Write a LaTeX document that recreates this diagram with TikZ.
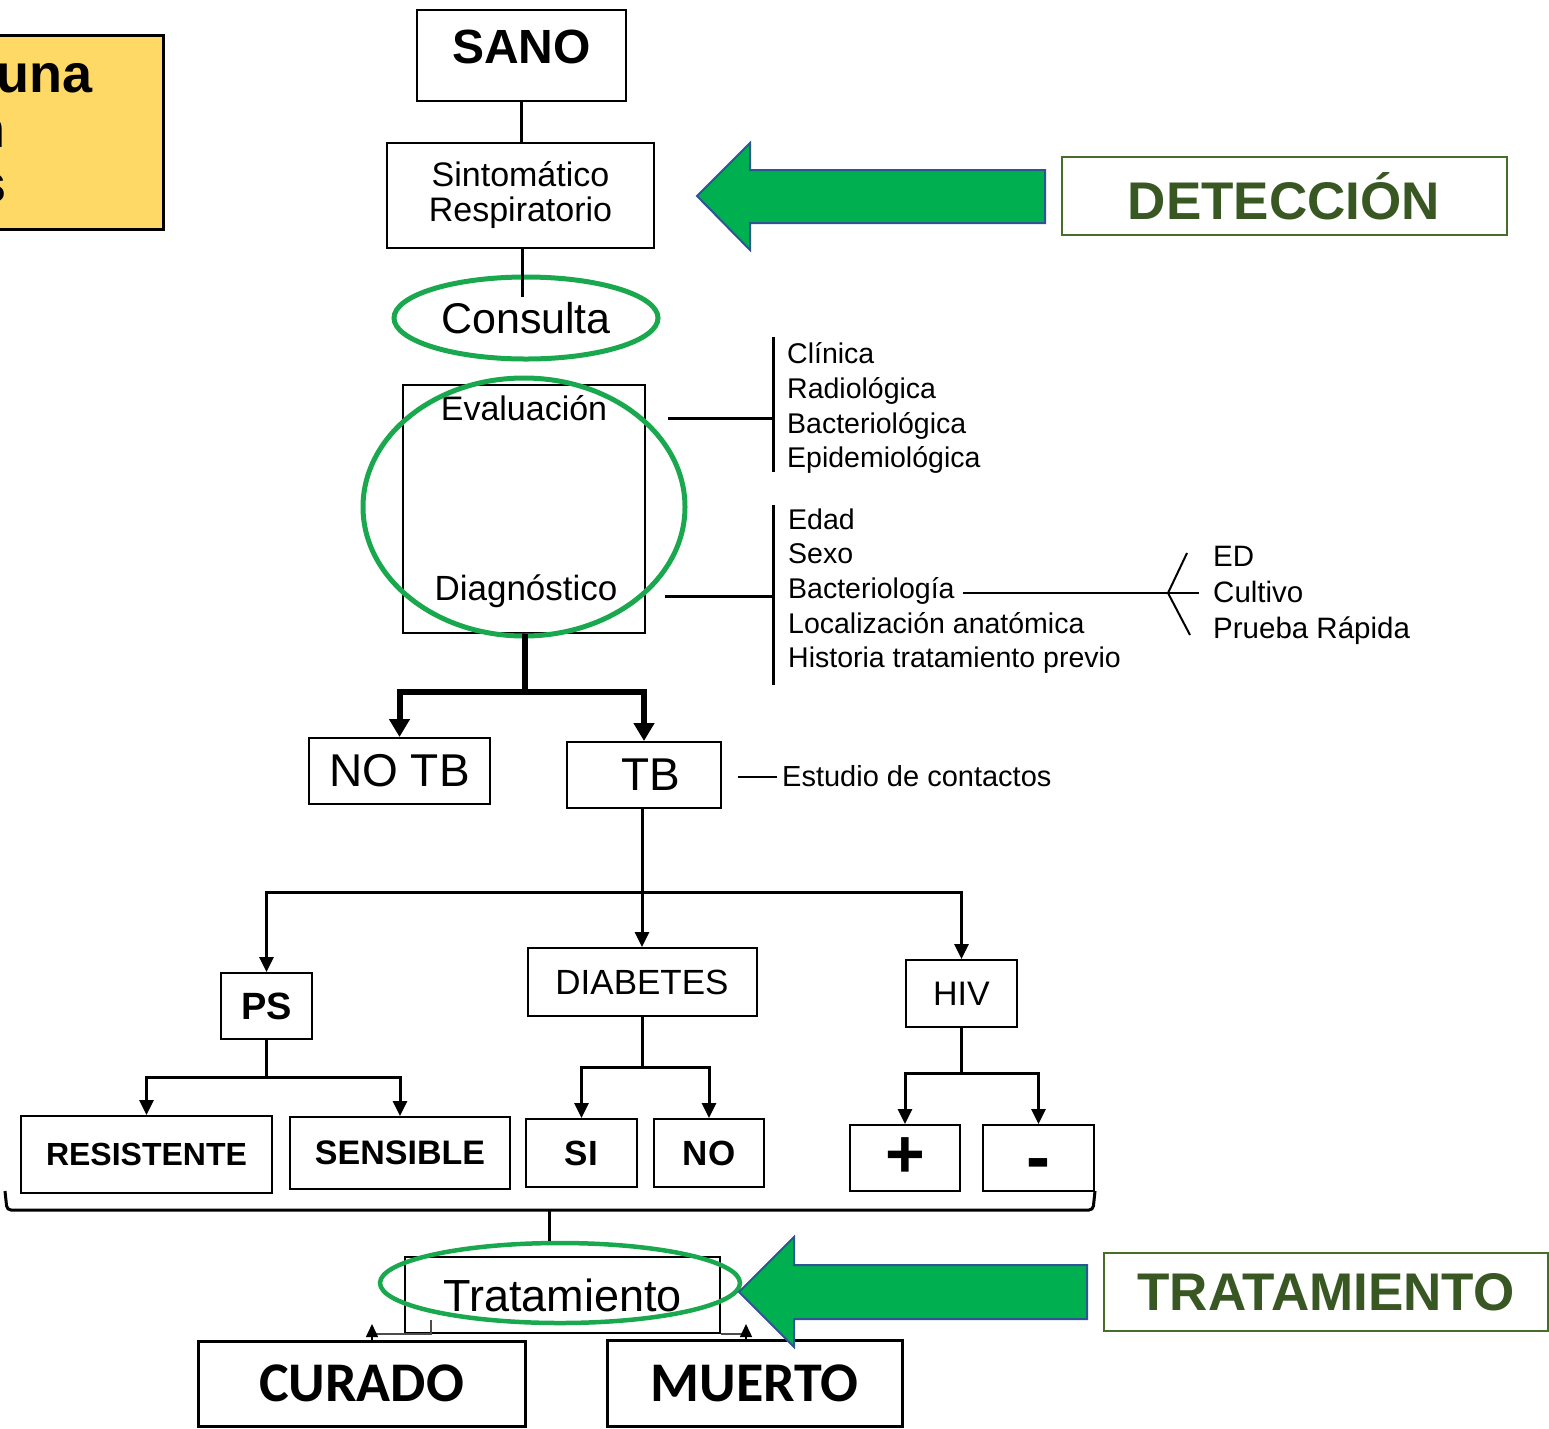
\documentclass[tikz,border=0pt]{standalone}
\usepackage{fontspec}
\setmainfont{Liberation Sans}
\newfontfamily\carlitofont{Carlito}
\usetikzlibrary{shapes.geometric,arrows.meta,calc}
\definecolor{ellgreen}{RGB}{26,168,78}
\definecolor{arrgreen}{RGB}{0,176,80}
\definecolor{arrblue}{RGB}{47,84,150}
\definecolor{darkgreen}{RGB}{56,87,35}
\definecolor{boxgreen}{RGB}{70,110,40}
\definecolor{yel}{RGB}{255,217,102}
\newcommand\fs[2]{\fontsize{#1}{#2}\selectfont}
\begin{document}
\begin{tikzpicture}[x=1pt,y=-1pt,
  box/.style={draw,line width=2pt,inner sep=0pt,align=center,fill=white},
  ell/.style={draw=ellgreen,line width=5pt,ellipse,inner sep=0pt},
  conn/.style={line width=3pt},
  tri/.style={-{Triangle[width=14pt,length=15pt]}},
  bigtri/.style={-{Triangle[width=20pt,length=18pt]}},
  lbl/.style={anchor=base west,inner sep=0pt,font=\fs{28.5}{34}},
  bigarrow/.style={fill=arrgreen,draw=arrblue,line width=2pt,line join=miter},
  tag/.style={draw=boxgreen,line width=2pt,inner sep=0pt,font=\bfseries\fs{53}{56},text=darkgreen},
]
\useasboundingbox (0,0) rectangle (1549,1428);
\clip (0,0) rectangle (1549,1428);

% yellow note (cut at the left edge)
\draw[fill=yel,line width=3pt] (-100,35) rectangle (163,229);
\node[anchor=base east,inner sep=0pt,font=\bfseries\fs{54}{60}] (y1) at (93,92) {una};
\node[anchor=base east,inner sep=0pt,font=\bfseries\fs{54}{60}] (y2) at (6,147) {n};
\node[anchor=base east,inner sep=0pt,font=\bfseries\fs{54}{60}] (y3) at (7,202) {s};

% top chain
\node[box,minimum width=209pt,minimum height=91pt,text depth=18pt,font=\bfseries\fs{48}{52}] (sano) at (521.5,55.5) {SANO};
\node[box,minimum width=267pt,minimum height=105pt,font=\fs{34}{35}] (sint) at (520.5,195.5) {Sintomático\\Respiratorio};
\draw[conn] (sano.south) -- (sano.south |- sint.north);
\node[ell,minimum width=264pt,minimum height=82pt,font=\fs{43}{48}] (cons) at (526,318) {Consulta};
\coordinate (consin) at (522,297);
\draw[conn] (sint.south -| consin) -- (consin);

% evaluation / diagnosis
\node[box,minimum width=242pt,minimum height=248pt] (evd) at (524,509) {};
\node[anchor=base,inner sep=0pt,font=\fs{34}{40}] (evtxt) at (524,420) {Evaluación};
\node[anchor=base,inner sep=0pt,font=\fs{35}{40}] (dgtxt) at (526,600) {Diagnóstico};
\node[ell,minimum width=322pt,minimum height=258pt] (evell) at (524,507) {};

% evaluation list
\coordinate (b1t) at (773,337);
\coordinate (b1b) at (773,472);
\coordinate (e1) at (668,418);
\draw[conn] (b1t) -- (b1b);
\draw[conn] (e1) -- (e1 -| b1t);
\node[lbl] (c1) at (787,363) {Clínica};
\node[lbl] (c2) at (787,398) {Radiológica};
\node[lbl] (c3) at (787,433) {Bacteriológica};
\node[lbl] (c4) at (787,467) {Epidemiológica};

% diagnosis list
\coordinate (b2t) at (773,505);
\coordinate (b2b) at (773,685);
\coordinate (e2) at (665,596);
\draw[conn] (b2t) -- (b2b);
\draw[conn] (e2) -- (e2 -| b2t);
\node[lbl] (d1) at (788,529) {Edad};
\node[lbl] (d2) at (788,563) {Sexo};
\node[lbl] (d3) at (788,598) {Bacteriología};
\node[lbl] (d4) at (788,633) {Localización anatómica};
\node[lbl] (d5) at (788,667) {Historia tratamiento previo};
\coordinate (bk) at (1168,593);
\draw[line width=2pt] ($(d3.base east)+(8,-5)$) -- (bk);
\draw[line width=2pt] (1187,553) -- (bk) -- (1190,635);
\draw[line width=2pt] (bk) -- (1199,593);
\node[lbl,font=\fs{29.5}{34}] (m1) at (1213,566) {ED};
\node[lbl,font=\fs{29.5}{34}] (m2) at (1213,602) {Cultivo};
\node[lbl,font=\fs{29.5}{34}] (m3) at (1213,638) {Prueba Rápida};

% TB / NO TB
\node[box,minimum width=181pt,minimum height=66pt,font=\fs{46}{50}] (notb) at (399.5,771) {NO TB};
\node[box,minimum width=154pt,minimum height=66pt,font=\fs{46}{50}] (tb) at (644,775) {\hspace*{14pt}TB};
\coordinate (j1) at (525,692);
\draw[line width=6pt] (evd.south -| j1) -- ($(j1)+(0,3)$);
\draw[line width=6pt,bigtri] (j1) -| (notb.north);
\draw[line width=6pt,bigtri] (j1) -| (tb.north);
\node[lbl,font=\fs{29}{34}] (estudio) at (782,786) {Estudio de contactos};
\draw[line width=2pt] ($(tb.east)+(16,2)$) -- ($(estudio.base west)+(-5,-9)$);

% second level
\node[box,minimum width=91pt,minimum height=66pt,font=\bfseries\fs{38}{42}] (ps) at (266.5,1006) {PS};
\node[box,minimum width=229pt,minimum height=68pt,font=\fs{35}{40}] (diab) at (642,982) {DIABETES};
\node[box,minimum width=111pt,minimum height=67pt,font=\fs{34}{40}] (hiv) at (961.5,993.5) {HIV};
\coordinate (j2) at (642,892);
\draw[conn] (tb.south -| j2) -- (j2);
\draw[conn,tri] (j2) -| (ps.north);
\draw[conn,tri] (j2) -- (diab.north);
\draw[conn,tri] (j2) -| (hiv.north);

% third level
\node[box,minimum width=251pt,minimum height=77pt,font=\bfseries\fs{32}{36}] (res) at (146.5,1154.5) {RESISTENTE};
\node[box,minimum width=220pt,minimum height=72pt,font=\bfseries\fs{34}{38}] (sen) at (400,1153) {SENSIBLE};
\node[box,minimum width=111pt,minimum height=68pt,font=\bfseries\fs{35}{40}] (si) at (581.5,1153) {SI};
\node[box,minimum width=110pt,minimum height=68pt,font=\bfseries\fs{35}{40}] (no) at (709,1153) {NO};
\node[box,minimum width=110pt,minimum height=66pt,font=\bfseries\fs{68}{70}] (pos) at (905,1158) {+};
\node[box,minimum width=111pt,minimum height=66pt] (neg) at (1038.5,1158) {};
\node[inner sep=0pt,font=\bfseries\fs{72}{74}] (negtxt) at ($(neg.center)+(0,12)$) {-};
\coordinate (j3) at (266.5,1077);
\draw[conn] (ps.south) -- (j3);
\draw[conn,tri] (j3) -| (res.north);
\draw[conn,tri] (j3) -| (sen.north);
\coordinate (j4) at (642,1067);
\draw[conn] (diab.south) -- (j4);
\draw[conn,tri] (j4) -| (si.north);
\draw[conn,tri] (j4) -| (no.north);
\coordinate (j5) at (961.5,1073);
\draw[conn] (hiv.south) -- (j5);
\draw[conn,tri] (j5) -| (pos.north);
\draw[conn,tri] (j5) -| (neg.north);

% brace
\draw[line width=3pt,rounded corners=4pt] (5,1191) -- (7,1210) -- (1093,1210) -- (1095,1191);
\coordinate (bm) at (549,1210);

% treatment
\node[box,minimum width=315pt,minimum height=76pt,font=\fs{45}{50}] (trat) at (562.5,1295) {Tratamiento};
\node[ell,line width=4.5pt,minimum width=360pt,minimum height=80pt] (tratell) at (560,1283) {};
\draw[line width=3pt] (bm) -- (bm |- tratell.north);
\node[box,line width=3pt,minimum width=327pt,minimum height=85pt,font=\carlitofont\bfseries\fs{56}{60}] (cur) at (361.5,1383.5) {CURADO};
\node[box,line width=3pt,minimum width=295pt,minimum height=86pt,font=\carlitofont\bfseries\fs{56}{60}] (mue) at (754.5,1383) {MUERTO};
\draw[line width=1.2pt,black!70] ($(trat.south west)+(27,-14)$) -- ($(trat.south west)+(27,0)$) -- (372,1334);
\draw[line width=1.5pt,-{Triangle[width=12pt,length=13pt]}] (372,1340) -- (372,1324);
\draw[line width=1.2pt,black!70] (trat.south east) -- (746,1334);
\draw[line width=1.5pt,-{Triangle[width=12pt,length=13pt]}] (746,1340) -- (746,1324);

% detection arrow and tag
\draw[bigarrow] (697,196) -- (750,143) -- (750,170) -- (1045,170) -- (1045,223) -- (750,223) -- (750,250) -- cycle;
\node[tag,minimum width=445pt,minimum height=78pt] (det) at (1284,196) {DETECCIÓN};

% treatment arrow and tag
\draw[bigarrow] (739,1292) -- (794,1237) -- (794,1265) -- (1087,1265) -- (1087,1319) -- (794,1319) -- (794,1347) -- cycle;
\node[tag,minimum width=444pt,minimum height=78pt] (tra) at (1326,1292) {TRATAMIENTO};
\end{tikzpicture}
\end{document}
